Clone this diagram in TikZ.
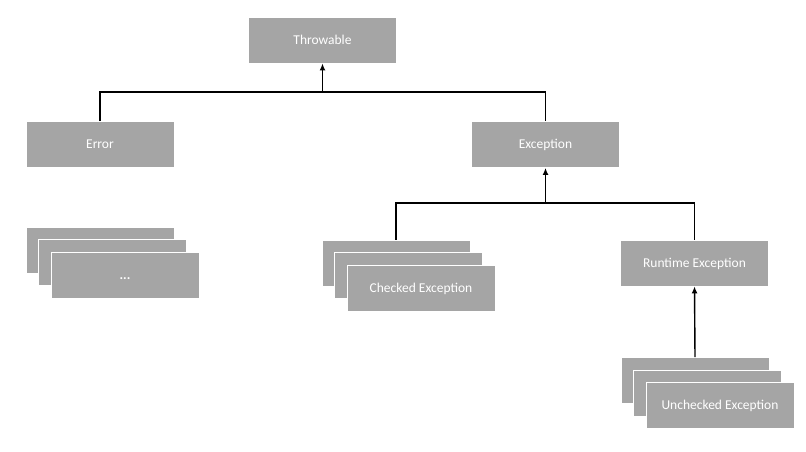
\documentclass[tikz,border=0pt]{standalone}
\usepackage{fontspec}
\setmainfont{Carlito}
\usetikzlibrary{arrows.meta}
\definecolor{boxgray}{HTML}{A5A5A5}
\tikzset{
  cls/.style={fill=boxgray,draw=white,line width=0.8pt,text=white,
    minimum width=148pt,minimum height=46pt,inner sep=0pt,
    text height=0.95em,text depth=0.1em,font=\fontsize{13.5}{15}\selectfont},
  link/.style={line width=1.4pt},
  up/.style={link,-{Latex[length=7pt,width=6pt]}}
}
\begin{document}
\begin{tikzpicture}[x=1pt,y=-1pt]
	\useasboundingbox (0,0) rectangle (806,451);
	%top classes
	\node[cls] (throwable) at (322.5,40) {Throwable};
	\node[cls] (error) at (100,144.5) {Error};
	\node[cls] (exception) at (545.5,144.5) {Exception};
	\node[cls] (runtime) at (694.5,263) {Runtime Exception};
	%stacks
	%%errors
	\node[cls] (err1) at (100,250) {};
	\node[cls] (err2) at (112.5,262.5) {};
	\node[cls] (err3) at (125,275) {\textbf{...}};
	%%checked
	\node[cls] (chk1) at (396,263) {};
	\node[cls] (chk2) at (408.5,275.5) {};
	\node[cls] (chk3) at (421,288) {Checked Exception};
	%%unchecked
	\node[cls] (unc1) at (695,380.5) {};
	\node[cls] (unc2) at (707.5,393) {};
	\node[cls] (unc3) at (720,405.5) {Unchecked Exception};
	%joints
	\coordinate (j1) at (322.5,92);
	\coordinate (j2) at (545.5,203);
	%links
	\draw[link] (error.north) -- (error.north |- j1) -- (exception.north |- j1) -- (exception.north);
	\draw[up] (j1) -- (throwable.south);
	\draw[link] (chk1.north) -- (chk1.north |- j2) -- (runtime.north |- j2) -- (runtime.north);
	\draw[up] (j2) -- (exception.south);
	\draw[up] (unc1.north) -- (runtime.south);
\end{tikzpicture}
\end{document}
